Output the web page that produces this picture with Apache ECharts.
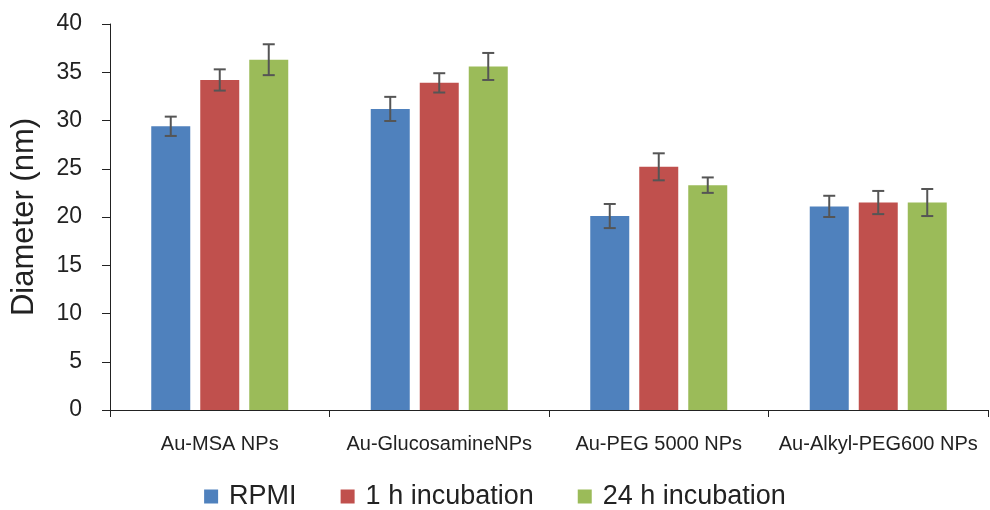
<!DOCTYPE html>
<html><head><meta charset="utf-8">
<script src="https://cdn.jsdelivr.net/npm/echarts@6/dist/echarts.min.js"></script>
<style>html,body{margin:0;padding:0;background:#fff}#c{width:990px;height:510px}</style>
</head><body><div id="c"></div>
<script>
const categories = ["Au-MSA NPs", "Au-GlucosamineNPs", "Au-PEG 5000 NPs", "Au-Alkyl-PEG600 NPs"];
const seriesNames = ["RPMI", "1 h incubation", "24 h incubation"];
const rpmi = [29.4, 31.2, 20.1, 21.1];
const h1 = [34.2, 33.9, 25.2, 21.5];
const h24 = [36.3, 35.6, 23.3, 21.5];
const rpmiErr = [1.0, 1.25, 1.25, 1.1];
const h1Err = [1.1, 1.0, 1.4, 1.2];
const h24Err = [1.6, 1.4, 0.8, 1.4];
const yTicks = [0, 5, 10, 15, 20, 25, 30, 35, 40];

const colors = ['#4F81BD', '#C0504D', '#9BBB59'];
const values = [rpmi, h1, h24];
const errs = [rpmiErr, h1Err, h24Err];
const BW = 39, GAP = 10;

const chart = echarts.init(document.getElementById('c'), null, {renderer: 'canvas'});
const series = [];
values.forEach((v, i) => {
  series.push({
    name: seriesNames[i], type: 'bar', data: v, barWidth: BW, barGap: (GAP / BW * 100) + '%',
    itemStyle: {color: colors[i]}
  });
});
values.forEach((v, i) => {
  series.push({
    type: 'custom', silent: true, z: 10,
    data: v.map((val, k) => [k, val - errs[i][k], val + errs[i][k]]),
    renderItem: function (params, api) {
      const off = (i - 1) * (BW + GAP);
      const lo = api.coord([api.value(0), api.value(1)]);
      const hi = api.coord([api.value(0), api.value(2)]);
      const x = lo[0] + off;
      const cap = 6;
      const st = {stroke: '#555', lineWidth: 2};
      return {type: 'group', children: [
        {type: 'line', shape: {x1: x, y1: lo[1], x2: x, y2: hi[1]}, style: st},
        {type: 'line', shape: {x1: x - cap, y1: lo[1], x2: x + cap, y2: lo[1]}, style: st},
        {type: 'line', shape: {x1: x - cap, y1: hi[1], x2: x + cap, y2: hi[1]}, style: st}
      ]};
    }
  });
});

chart.setOption({
  animation: false,
  textStyle: {fontFamily: 'Liberation Sans', color: '#222'},
  grid: {left: 110, right: 2, top: 24, bottom: 100},
  legend: {
    data: seriesNames, top: 478, left: 'center', itemWidth: 14, itemHeight: 14, itemGap: 44,
    icon: 'rect',
    textStyle: {fontSize: 27, color: '#222', fontFamily: 'Liberation Sans', padding: [0, 0, 0, 6]}
  },
  xAxis: {
    type: 'category', data: categories,
    axisLine: {lineStyle: {color: '#222', width: 1}},
    axisTick: {show: true, length: 7, lineStyle: {color: '#222'}},
    axisLabel: {interval: 0, fontSize: 20, color: '#222', margin: 24}
  },
  yAxis: {
    type: 'value', min: yTicks[0], max: yTicks[yTicks.length - 1], interval: 5,
    name: 'Diameter (nm)', nameLocation: 'middle', nameGap: 70,
    nameTextStyle: {fontSize: 31, color: '#222'},
    axisLine: {show: true, lineStyle: {color: '#222'}},
    axisTick: {show: true, length: 8, lineStyle: {color: '#222'}},
    splitLine: {show: false},
    axisLabel: {fontSize: 23, color: '#222', margin: 28}
  },
  series: series
});
</script></body></html>
